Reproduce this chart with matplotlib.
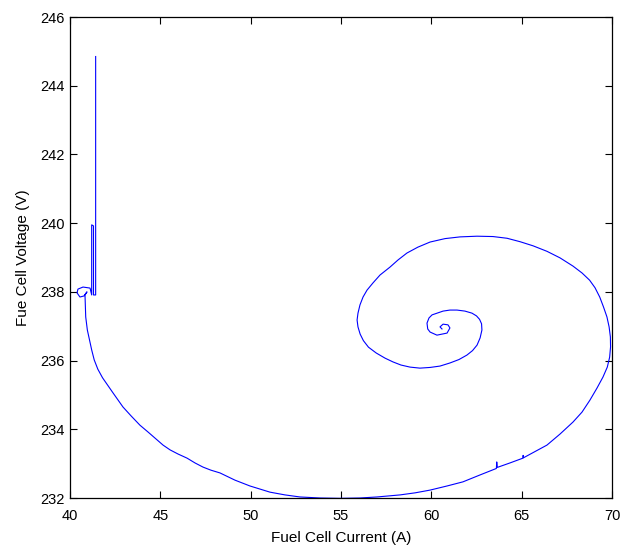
import matplotlib
matplotlib.use("Agg")
import matplotlib.pyplot as plt

# Valeurs (courant en A, tension en V), dans l'ordre du tracé
courant = [41.42, 41.42, 41.30, 41.30, 41.20, 41.20, 41.11, 40.72, 40.44, 40.39, 40.55, 40.77,
           40.94, 40.83,
           40.87, 40.96, 41.08, 41.20, 41.34, 41.54, 41.80, 42.10, 42.38, 42.66, 42.93, 43.38,
           43.87, 44.32, 44.82, 45.15, 45.54, 45.98, 46.48, 46.92, 47.36, 47.80, 48.30, 49.13,
           49.96, 50.52, 51.07, 51.90, 52.73, 53.84, 54.94, 56.05, 56.99, 57.60, 58.27, 59.10,
           59.93, 60.87, 61.75, 62.69, 63.60, 63.62, 63.65, 64.35, 65.07, 65.08, 65.10, 66.40,
           67.12, 67.84, 68.34, 68.78, 69.17, 69.50, 69.74, 69.87, 69.92, 69.91, 69.84, 69.72,
           69.53, 69.32, 69.06, 68.76, 68.34, 67.84, 67.12, 66.40, 65.63, 64.91, 64.19, 63.41,
           62.53, 61.59, 60.76, 59.93, 59.25, 58.65, 58.16, 57.71, 57.16, 56.77, 56.44, 56.22,
           56.05, 55.94, 55.89, 55.94, 56.06, 56.24, 56.52, 56.95, 57.44, 57.88, 58.32, 58.82,
           59.37, 59.93, 60.48, 61.03, 61.53, 61.97, 62.28, 62.53, 62.70, 62.80, 62.78, 62.67,
           62.50, 62.25, 61.86, 61.42, 61.03, 60.65, 60.31, 60.04, 59.87, 59.76, 59.80, 59.93,
           60.31, 60.87, 61.03, 60.92, 60.65, 60.48, 60.59]
tension = [244.85, 237.91, 237.91, 239.92, 239.95, 237.91, 238.11, 238.14, 238.08, 237.97, 237.85, 237.88,
           238.00, 237.91,
           237.27, 236.89, 236.60, 236.31, 236.02, 235.75, 235.50, 235.27, 235.06, 234.85, 234.65, 234.39,
           234.12, 233.92, 233.69, 233.54, 233.40, 233.28, 233.16, 233.02, 232.90, 232.81, 232.73, 232.52,
           232.35, 232.26, 232.17, 232.09, 232.03, 232.00, 231.99, 232.00, 232.03, 232.06, 232.09, 232.15,
           232.23, 232.35, 232.47, 232.67, 232.86, 233.05, 232.89, 233.02, 233.16, 233.24, 233.17, 233.54,
           233.86, 234.21, 234.50, 234.85, 235.20, 235.52, 235.81, 236.10, 236.40, 236.69, 236.98, 237.27,
           237.56, 237.85, 238.12, 238.34, 238.55, 238.75, 238.99, 239.18, 239.34, 239.46, 239.56, 239.61,
           239.62, 239.60, 239.55, 239.45, 239.30, 239.13, 238.93, 238.72, 238.49, 238.26, 238.05, 237.85,
           237.62, 237.38, 237.18, 236.98, 236.77, 236.58, 236.39, 236.22, 236.07, 235.96, 235.87, 235.81,
           235.78, 235.80, 235.84, 235.93, 236.03, 236.16, 236.29, 236.45, 236.66, 236.89, 237.07, 237.20,
           237.30, 237.38, 237.44, 237.47, 237.47, 237.44, 237.38, 237.33, 237.24, 237.09, 236.92, 236.83,
           236.74, 236.80, 236.95, 237.04, 237.06, 236.98, 236.92]

ticks_x = [40, 45, 50, 55, 60, 65, 70]
ticks_y = [232, 234, 236, 238, 240, 242, 244, 246]

plt.rcParams['font.family'] = ['Liberation Sans', 'DejaVu Sans']

fig = plt.figure(figsize=(6.4, 5.57), dpi=100)
ax = fig.add_axes([70 / 640, 59 / 557, 542 / 640, 481 / 557])

ax.plot(courant, tension, color='#0000ff', linewidth=0.8)

ax.set_xlim(40, 70)
ax.set_ylim(232, 246)
ax.set_xticks(ticks_x)
ax.set_yticks(ticks_y)
ax.tick_params(direction='in', length=5, width=0.8, top=True, right=True,
               labelsize=10.5, colors='black')
ax.tick_params(axis='x', pad=8)
ax.tick_params(axis='y', pad=4)
for s in ax.spines.values():
    s.set_linewidth(0.9)

ax.set_xlabel("Fuel Cell Current (A)", fontsize=11, labelpad=6)
ax.set_ylabel("Fue Cell Voltage (V)", fontsize=11, labelpad=7)

fig.savefig("out.png", dpi=100)
